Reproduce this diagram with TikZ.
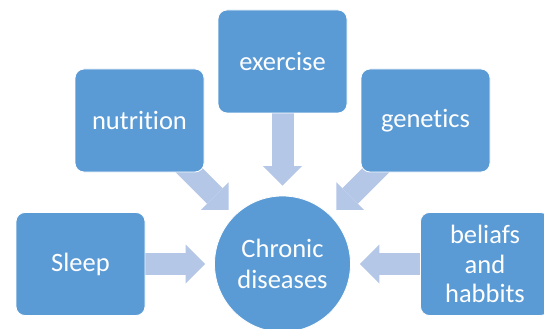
\documentclass[tikz,border=0pt]{standalone}
\usepackage{fontspec}
\setmainfont[RawFeature={-liga;-clig}]{Carlito}
\usetikzlibrary{arrows.meta,calc,backgrounds}
\definecolor{boxblue}{HTML}{5B9BD5}
\definecolor{arrowblue}{HTML}{B4C7E7}
\tikzset{
  factorbox/.style={rectangle, rounded corners=9pt, fill=boxblue, draw=white, line width=0.8pt,
    minimum width=129pt, minimum height=103pt, inner sep=0pt, text=white, align=center,
    font=\fontsize{26.5pt}{29.5pt}\selectfont},
  centercircle/.style={circle, fill=boxblue, draw=white, line width=0.8pt, minimum size=136pt,
    inner sep=0pt, text=white, align=center, font=\fontsize{26.5pt}{31pt}\selectfont},
  bigarrow/.style={draw=arrowblue, line width=22pt,
    -{Triangle[width=39pt, length=19.5pt, line width=0pt, fill=arrowblue]}}
}
\begin{document}
\begin{tikzpicture}[x=1pt, y=-1pt]
\clip (0,0) rectangle (544,329);
\useasboundingbox (0,0) rectangle (544,329);
\node[centercircle] (chronic) at (282.5,264) {Chronic\\diseases};
\node[factorbox] (exercise) at (282.5,61.5) {exercise};
\node[factorbox] (nutrition) at (139.5,120.5) {nutrition};
\node[factorbox] (genetics) at (425.5,120.5) {genetics};
\node[factorbox] (sleep) at (80.5,264) {Sleep};
\node[factorbox] (beliefs) at (485,264) {beliafs\\and\\habbits};
\begin{scope}[on background layer]
\fill[white] (0,0) rectangle (544,329);
\draw[bigarrow, shorten >=10pt] (exercise.south) -- (chronic.north);
\draw[bigarrow, shorten >=9pt] (sleep.east) -- (chronic.west);
\draw[bigarrow, shorten >=9pt] (beliefs.west) -- (chronic.east);
\draw[bigarrow, shorten >=8pt] ($(nutrition.south east)+(-25,-12)$) -- (chronic);
\draw[bigarrow, shorten >=8pt] ($(genetics.south west)+(25,-12)$) -- (chronic);
\end{scope}
\end{tikzpicture}
\end{document}
